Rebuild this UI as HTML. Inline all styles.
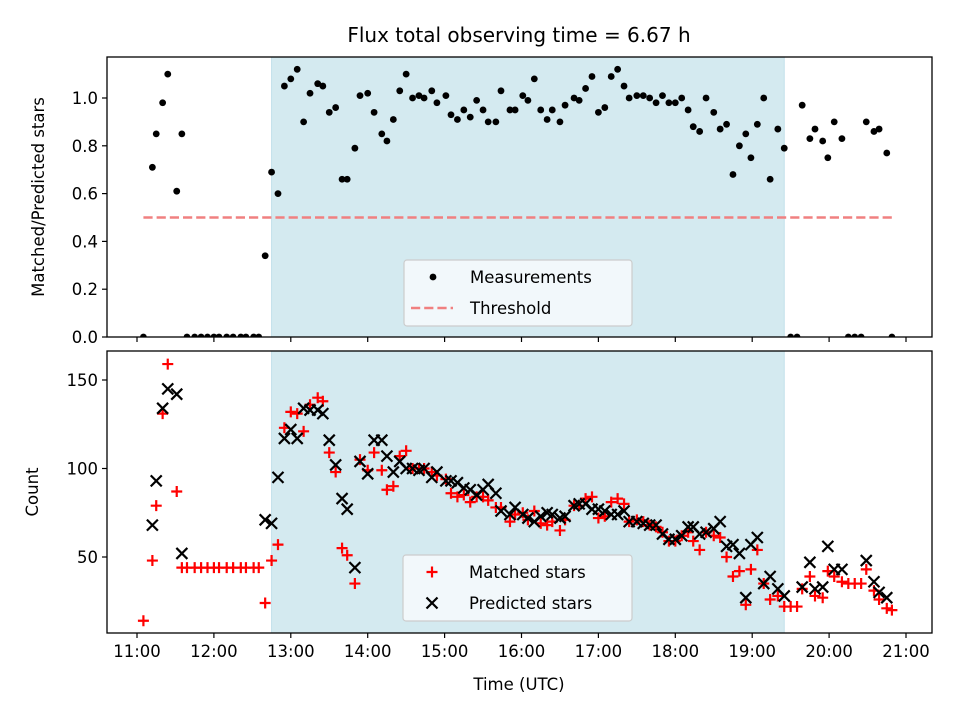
<!DOCTYPE html>
<html><head><meta charset="utf-8"><style>
html,body{margin:0;padding:0;background:#fff}
svg{display:block;font-family:"DejaVu Sans","Liberation Sans",sans-serif}
</style></head><body>
<svg id="c" width="960" height="720" viewBox="0 0 960 720"></svg>
<script>
const times=[5,12,15,20,24,31,35,39,45,50,55,60,64,70,75,81,85,91,95,100,105,110,115,120,125,130,135,141,145,150,155,160,164,170,174,180,185,191,195,200,205,210,215,220,224,230,234,241,245,250,255,260,265,270,274,280,284,291,295,301,305,310,315,320,324,330,334,341,345,350,355,360,365,370,375,380,384,390,395,400,405,410,415,420,425,430,434,439,444,450,455,460,465,470,475,479,484,489,494,500,505,510,515,519,525,529,535,539,544,550,555,560,565,569,575,579,585,589];
const ratio=[0,.71,.85,.98,1.10,.61,.85,0,0,0,0,0,0,0,0,0,0,0,0,.34,.69,.60,1.05,1.08,1.12,.90,1.02,1.06,1.05,.94,.96,.66,.66,.79,1.01,1.02,.94,.85,.82,.91,1.03,1.10,1.0,1.01,1.0,1.03,.98,1.01,.93,.91,.95,.92,.99,.95,.90,.90,1.03,.95,.95,1.01,.99,1.08,.95,.91,.95,.90,.97,1.0,.99,1.04,1.09,.94,.96,1.09,1.12,1.05,1.0,1.01,1.01,1.0,.98,1.01,.98,.98,1.0,.95,.88,.86,1.0,.94,.87,.89,.68,.80,.85,.75,.89,1.0,.66,.87,.79,0,0,.97,.83,.87,.82,.75,.90,.83,0,0,0,.90,.86,.87,.77,0];
const predicted=[null,68,93,134,145,142,52,null,null,null,null,null,null,null,null,null,null,null,null,71,69,95,117,122,117,134,133,133,131,116,102,83,77,44,104,97,116,116,107,98,104,100,100,99,100,95,98,93,93,92,89,88,85,88,91,86,76,74,78,74,72,70,73,75,74,72,73,79,80,80,77,77,76,74,74,76,70,70,69,68,68,63,60,60,62,67,67,63,64,66,70,56,57,52,27,57,61,35,39,32,28,null,null,33,47,32,33,56,43,43,null,null,null,48,36,30,27,null];
const matched=[14,48,79,131,159,87,44,44,44,44,44,44,44,44,44,44,44,44,44,24,48,57,123,132,131,121,136,140,138,109,98,55,51,35,105,99,109,99,88,90,107,110,100,100,100,98,96,94,86,84,85,81,84,84,82,78,78,70,74,75,71,76,69,68,70,65,71,79,79,83,84,72,73,81,83,80,70,71,70,68,67,64,59,59,62,64,59,54,64,62,61,50,39,42,23,43,54,35,26,28,22,22,22,32,39,28,27,42,39,36,35,35,35,43,31,26,21,20];
const xTicks=["11:00","12:00","13:00","14:00","15:00","16:00","17:00","18:00","19:00","20:00","21:00"];
const ratioTicks=[0,0.2,0.4,0.6,0.8,1.0];
const countTicks=[50,100,150];
const threshold=0.5;
const spanStart=105, spanEnd=505;

const NS="http://www.w3.org/2000/svg";
const svg=document.getElementById('c');
function mk(tag,attrs,parent){const e=document.createElementNS(NS,tag);for(const k in attrs)e.setAttribute(k,attrs[k]);(parent||svg).appendChild(e);return e;}
const L=107,R=932,T1=57,B1=337,T2=351,B2=633;
const X=t=>137+t/60*76.9;
const Y1=v=>337-v*239;
const Y2=c=>645.5-c*1.77;

const defs=mk('defs',{});
const cp1=mk('clipPath',{id:'cp1'},defs);mk('rect',{x:L,y:T1,width:R-L,height:B1-T1},cp1);
const cp2=mk('clipPath',{id:'cp2'},defs);mk('rect',{x:L,y:T2,width:R-L,height:B2-T2},cp2);

let t=mk('text',{x:519,y:42,'text-anchor':'middle','font-size':20,fill:'#000'});t.textContent='Flux total observing time = 6.67 h';



[[T1,B1,'top'],[T2,B2,'bottom']].forEach(([a,b,n])=>{
  const r=mk('rect',{x:X(spanStart),y:a,width:X(spanEnd)-X(spanStart),height:b-a,fill:'#d4eaf0',stroke:'#c2e0ea','stroke-width':1});
  
  
});

const g1=mk('g',{'clip-path':'url(#cp1)'});


times.forEach((tt,i)=>{
  const c=mk('circle',{cx:X(tt),cy:Y1(ratio[i]),r:3.4,fill:'#000'},g1);
  
  
});
const th=mk('line',{x1:X(times[0]),x2:X(times[times.length-1]),y1:Y1(threshold),y2:Y1(threshold),stroke:'#f08080','stroke-width':2.5,'stroke-dasharray':'9.2,4'});



const g2=mk('g',{'clip-path':'url(#cp2)'});


times.forEach((tt,i)=>{
  const x=X(tt),y=Y2(matched[i]),s=5.5;
  const p=mk('path',{d:`M${x-s},${y}H${x+s}M${x},${y-s}V${y+s}`,stroke:'#f00','stroke-width':2.2,fill:'none'},g2);
  
  
});
times.forEach((tt,i)=>{
  if(predicted[i]===null)return;
  const x=X(tt),y=Y2(predicted[i]),s=5.5;
  const p=mk('path',{d:`M${x-s},${y-s}L${x+s},${y+s}M${x-s},${y+s}L${x+s},${y-s}`,stroke:'#000','stroke-width':2.2,fill:'none'},g2);
  
  
});

[[T1,B1,'top-axes'],[T2,B2,'bottom-axes']].forEach(([a,b,n])=>{
  const r=mk('rect',{x:L,y:a,width:R-L,height:b-a,fill:'none',stroke:'#000','stroke-width':1.3});
  
  
});
xTicks.forEach((lab,i)=>{
  const x=X(i*60);
  mk('line',{x1:x,x2:x,y1:B1,y2:B1+5,stroke:'#000','stroke-width':1.2});
  mk('line',{x1:x,x2:x,y1:B2,y2:B2+5,stroke:'#000','stroke-width':1.2});
  const tx=mk('text',{x:x,y:B2+24,'text-anchor':'middle','font-size':16.5});tx.textContent=lab;
  
  
});
ratioTicks.forEach(v=>{
  const y=Y1(v);
  mk('line',{x1:L-5,x2:L,y1:y,y2:y,stroke:'#000','stroke-width':1.2});
  const tx=mk('text',{x:L-9,y:y+6,'text-anchor':'end','font-size':16.5});tx.textContent=v.toFixed(1);
  
  
});
countTicks.forEach(v=>{
  const y=Y2(v);
  mk('line',{x1:L-5,x2:L,y1:y,y2:y,stroke:'#000','stroke-width':1.2});
  const tx=mk('text',{x:L-9,y:y+6,'text-anchor':'end','font-size':16.5});tx.textContent=v;
  
  
});
let a1=mk('text',{x:0,y:0,'text-anchor':'middle','font-size':16.5,transform:'translate(44,197) rotate(-90)'});a1.textContent='Matched/Predicted stars';


let a2=mk('text',{x:0,y:0,'text-anchor':'middle','font-size':16.5,transform:'translate(38,492) rotate(-90)'});a2.textContent='Count';


let a3=mk('text',{x:519,y:690,'text-anchor':'middle','font-size':16.5});a3.textContent='Time (UTC)';



function legend(x,y,w,h,name,items){
  const g=mk('g',{});
  
  
  mk('rect',{x:x,y:y,width:w,height:h,rx:3,fill:'#f5f9fc','fill-opacity':0.9,stroke:'#ccc','stroke-width':1.2},g);
  items.forEach((it,i)=>{
    const cy=y+17+i*31;
    const mx=x+29;
    if(it.type==='dot')mk('circle',{cx:mx,cy:cy,r:3.4,fill:'#000'},g);
    if(it.type==='dash')mk('line',{x1:mx-22,x2:mx+20,y1:cy,y2:cy,stroke:'#f08080','stroke-width':2.5,'stroke-dasharray':'9.2,4'},g);
    if(it.type==='plus')mk('path',{d:`M${mx-5.5},${cy}H${mx+5.5}M${mx},${cy-5.5}V${cy+5.5}`,stroke:'#f00','stroke-width':2.2},g);
    if(it.type==='x')mk('path',{d:`M${mx-5.5},${cy-5.5}L${mx+5.5},${cy+5.5}M${mx-5.5},${cy+5.5}L${mx+5.5},${cy-5.5}`,stroke:'#000','stroke-width':2.2},g);
    const tx=mk('text',{x:x+66,y:cy+6,'font-size':16.5},g);tx.textContent=it.label;
    
    
  });
}
legend(404,260,228,66,'legend-top',[{type:'dot',label:'Measurements'},{type:'dash',label:'Threshold'}]);
legend(403,555,229,66,'legend-bottom',[{type:'plus',label:'Matched stars'},{type:'x',label:'Predicted stars'}]);
</script>
</body></html>
